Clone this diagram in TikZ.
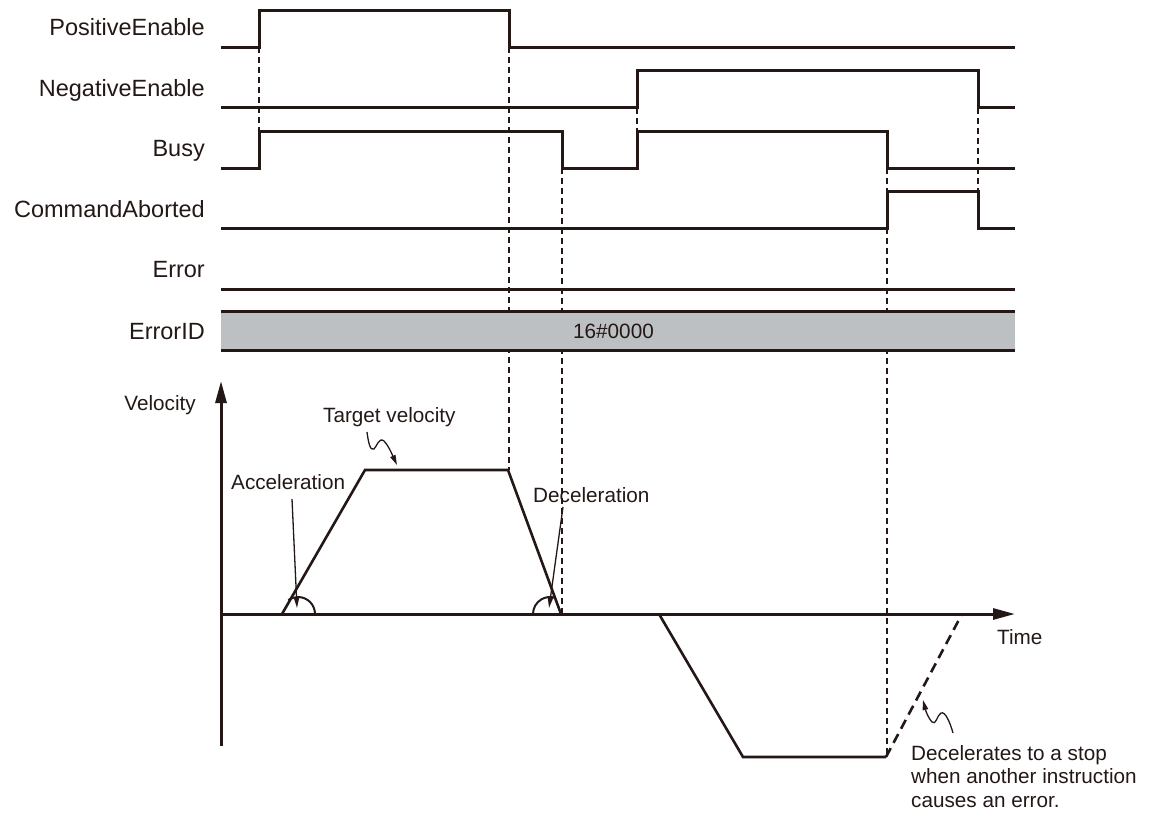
\documentclass[tikz,border=0pt]{standalone}
\usepackage{fontspec}
\setmainfont{Liberation Sans}
\usetikzlibrary{arrows.meta}
\definecolor{ink}{HTML}{231815}
\definecolor{band}{HTML}{BDC0C2}
\begin{document}
\begin{tikzpicture}[x=1pt,y=-1pt,
  sig/.style={draw=ink,line width=3pt,line join=miter},
  guide/.style={draw=ink,line width=1.1pt,dash pattern=on 6pt off 4pt},
  lbl/.style={anchor=base east,inner sep=0pt,font=\fontsize{23.5}{26}\selectfont,text=ink},
  ann/.style={inner sep=0pt,font=\fontsize{20.7}{23.5}\selectfont,text=ink},
  prof/.style={draw=ink,line width=2.6pt,line join=miter},
  axisline/.style={draw=ink,line width=3pt,-{Triangle[length=22pt,width=11pt]}},
  ptr/.style={draw=ink,line width=1.3pt,-{Triangle[length=11pt,width=5.5pt]}},
  wave/.style={draw=ink,line width=1.3pt,-{Triangle[length=10pt,width=5.5pt]}},
]
\useasboundingbox (0,0) rectangle (1151,812);

% labels
\node[lbl] (lpe) at (205,35.4) {PositiveEnable};
\node[lbl] (lne) at (205,96.4) {NegativeEnable};
\node[lbl] (lbusy) at (205,156.6) {Busy};
\node[lbl] (lca) at (205,217.4) {CommandAborted};
\node[lbl] (lerr) at (205,277.6) {Error};
\node[lbl] (leid) at (205,339.4) {ErrorID};

% guides
\draw[guide] (259,47.3) -- (259,131);
\draw[guide] (509,47.3) -- (509,470);
\draw[guide] (562,168.3) -- (562,614);
\draw[guide] (637,107.7) -- (637,131);
\draw[guide] (887,168.3) -- (887,757);
\draw[guide] (978,107.7) -- (978,191);

% ErrorID band (covers the guides)
\fill[band] (221,311.7) rectangle (1015,350);
\draw[sig] (221,311.7) -- (1015,311.7);
\draw[sig] (221,350) -- (1015,350);
\node[ann,anchor=base west] (eid) at (573,338.6) {16\#0000};

% signals
\draw[sig] (221,47.3) -- (259,47.3) -- (259,10) -- (509,10) -- (509,47.3) -- (1015,47.3);
\draw[sig] (221,107.7) -- (637,107.7) -- (637,70) -- (978,70) -- (978,107.7) -- (1015,107.7);
\draw[sig] (221,168.3) -- (259,168.3) -- (259,131) -- (562,131) -- (562,168.3) -- (637,168.3) -- (637,131) -- (887,131) -- (887,168.3) -- (1015,168.3);
\draw[sig] (221,228.7) -- (887,228.7) -- (887,191) -- (978,191) -- (978,228.7) -- (1015,228.7);
\draw[sig] (221,289.3) -- (1015,289.3);

% axes
\coordinate (vbot) at (221,746);
\coordinate (vtop) at (221,381);
\coordinate (torig) at (219.5,614);
\coordinate (tend) at (1015,614);
\draw[axisline] (vbot) -- (vtop);
\draw[axisline] (torig) -- (tend);
\node[ann,anchor=base east] (vel) at (196,410) {Velocity};
\node[ann,anchor=base west] (time) at (997,644) {Time};

% velocity profile
\draw[prof] (282,614) -- (365,470) -- (508,470) -- (561,614);
\draw[prof] (659,614) -- (743,757) -- (886,757);
\draw[draw=ink,line width=2.6pt,dash pattern=on 10pt off 6pt] (886,757) -- (962,614);

% angle arcs
\draw[draw=ink,line width=2pt] (315,614) arc[start angle=0,end angle=125,radius=17pt];
\draw[draw=ink,line width=2pt] (533,614) arc[start angle=180,end angle=72,radius=17pt];

% annotations
\node[ann,anchor=base west] (tv) at (323,422) {Target velocity};
\node[ann,anchor=base west] (acc) at (231,489) {Acceleration};
\node[ann,anchor=base west] (dec) at (533,502) {Deceleration};
\node[ann,anchor=base west] (dec1) at (911,760) {Decelerates to a stop};
\node[ann,anchor=base west] (dec2) at (911,783.5) {when another instruction};
\node[ann,anchor=base west] (dec3) at (911,807) {causes an error.};

\coordinate (accp) at (297,608);
\coordinate (decp) at (549,608);
\draw[ptr] (292,499) -- (accp);
\draw[ptr] (563,507) -- (decp);

\coordinate (tvp) at (397,465);
\draw[wave] (367,432) .. controls (368,440) and (370,452) .. (374,449) .. controls (377,446) and (379,437) .. (384,441) .. controls (388,445) and (391,452) .. (tvp);
\coordinate (errp) at (923,700);
\draw[wave] (953,733) .. controls (950,722) and (945,711) .. (941,713) .. controls (937,715) and (936,726) .. (932,722) .. controls (929,719) and (926,712) .. (errp);
\end{tikzpicture}
\end{document}
